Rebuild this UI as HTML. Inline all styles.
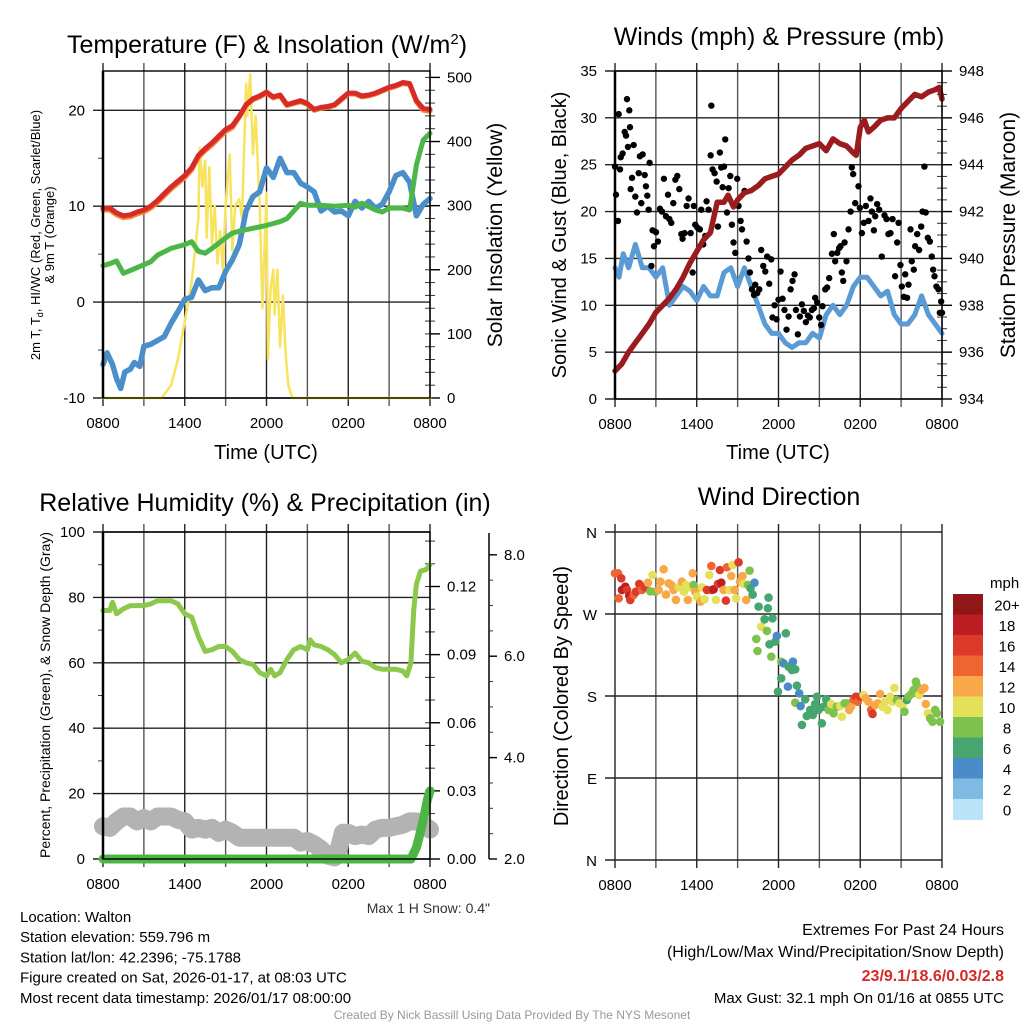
<!DOCTYPE html>
<html><head><meta charset="utf-8">
<style>
html,body{margin:0;padding:0;background:#fff;}
svg{display:block;font-family:"Liberation Sans",Arial,sans-serif;}
</style></head>
<body>
<svg id="chart" width="1024" height="1024" viewBox="0 0 1024 1024" xmlns="http://www.w3.org/2000/svg">
<rect width="1024" height="1024" fill="#fff"/>
</svg>
<script>
// ---------- shared axis data ----------
const timeTickHours = [0, 6, 12, 18, 24];
const timeTickLabels = ["0800", "1400", "2000", "0200", "0800"];
const gridHours = [0, 3, 6, 9, 12, 15, 18, 21, 24];

// ---------- Temperature panel ----------
const tempHours = [0,0.5,1,1.5,2,2.5,3,3.5,4,4.5,5,5.5,6,6.5,7,7.5,8,8.5,9,9.5,10,10.5,11,11.5,12,12.5,13,13.5,14,14.5,15,15.5,16,16.5,17,17.5,18,18.5,19,19.5,20,20.5,21,21.5,22,22.5,23,23.5,24];
const tempRed = [9.8,9.8,9.3,9.0,9.1,9.4,9.6,10.0,10.6,11.3,12.0,12.6,13.2,14.0,15.3,16.0,16.6,17.3,18.0,18.4,19.4,20.6,21.2,21.5,21.9,21.4,21.6,20.6,20.8,21.0,20.7,20.1,20.3,20.4,20.6,21.2,21.8,21.8,21.5,21.6,21.8,22.1,22.4,22.6,22.9,22.8,21.0,20.2,20.1];
const tempOrange = [9.6,9.6,9.1,8.8,8.9,9.2,9.4,9.8,10.4,11.1,11.8,12.4,13.0,13.8,15.1,15.8,16.4,17.1,17.8,18.2,19.3,20.5,21.1,21.4,21.8,21.3,21.5,20.5,20.7,20.9,20.6,20.0,20.2,20.3,20.5,21.1,21.7,21.7,21.4,21.5,21.7,22.0,22.3,22.5,22.8,22.7,20.9,20.0,19.9];
const dewHours = [0,0.5,1,1.5,2,3,3.5,4,5,6,6.5,7,7.5,8,9,9.5,10,11,12,13,13.5,14,14.5,15,16,17,18,18.5,19,20,20.5,21,22,22.5,23,23.5,24];
const dewGreen = [3.8,4.0,4.3,3.0,3.3,3.9,4.2,4.9,5.6,6.0,6.3,5.3,5.1,5.6,6.7,7.2,7.4,7.7,8.0,8.4,8.7,9.5,10.3,10.1,10.1,10.0,10.1,9.9,10.3,9.6,9.4,9.8,9.8,9.6,14.3,16.9,17.6];
const wcHours = [0,0.3,0.7,1,1.3,1.6,2,2.3,2.7,3,3.5,4,4.5,5,5.5,6,6.5,7,7.5,8,8.5,9,9.5,10,10.5,11,11.5,12,12.5,13,13.5,14,14.5,15,15.5,16,16.5,17,17.5,18,18.5,19,19.5,20,20.5,21,21.5,22,22.5,23,23.5,24];
const wcBlue = [-6.5,-5.3,-6.5,-8.0,-9.0,-7.3,-7.0,-6.3,-6.7,-4.6,-4.4,-4.0,-3.6,-2.2,-1.0,0.3,0.5,2.3,1.2,1.5,1.5,3.2,4.4,6.0,9.5,11.0,11.5,14.0,13.0,15.0,13.5,13.5,12.4,12.0,11.5,9.5,10.0,9.4,9.5,9.0,10.5,9.8,10.5,9.8,10.2,11.5,13.2,13.5,12.5,9.0,10.2,10.8];
const solarHours = [0,4.3,5,5.5,6,6.5,7,7.1,7.3,7.5,7.6,7.8,8,8.2,8.4,8.6,8.8,9,9.3,9.5,9.7,10,10.2,10.5,10.6,10.8,11,11.2,11.5,11.7,12,12.1,12.3,12.5,12.6,12.8,13,13.2,13.4,13.6,13.9,24];
const solarValues = [0,0,20,60,120,180,280,390,330,370,250,360,240,300,210,260,200,300,380,230,300,310,280,490,440,505,380,440,300,140,320,60,170,200,130,200,80,160,70,20,0,0];
const tempTicks = [-10,0,10,20];
const solarTicks = [0,100,200,300,400,500];

// ---------- Wind panel ----------
const windHours = [0,0.3,0.6,1,1.5,2,2.5,3,3.5,4,4.5,5,5.5,6,6.5,7,7.5,8,8.5,9,9.5,10,10.5,11,11.5,12,12.5,13,13.5,14,14.5,15,15.5,16,16.5,17,17.5,18,18.5,19,19.5,20,20.5,21,21.5,22,22.5,23,23.5,24];
const windSpeed = [14,13,15.5,14,16.5,14,14,13,14,10,11,12,11.5,10.5,12,11,11,13.5,14,12,14,12,10,8,7,7,6,5.5,6,6,7,6.5,9,10,9,10,12,13,13,12,11,11.5,9,8,8,9,11,9,8,7];
const gustHours = [0,0.07,0.22,0.27,0.42,0.37,0.56,0.71,0.81,0.88,0.95,1.05,1.10,1.15,1.25,1.37,1.49,1.61,1.74,1.83,1.93,2.03,2.18,2.27,2.37,2.47,2.54,2.67,2.76,2.86,3.01,3.15,3.30,3.45,3.59,3.74,3.89,3.99,4.13,4.28,4.43,4.57,4.72,4.87,4.96,5.11,5.26,5.40,5.55,5.70,5.79,5.89,6.04,6.23,6.33,6.48,6.63,6.72,6.87,7.02,7.07,7.16,7.31,7.46,7.55,7.70,7.80,7.90,8.00,8.09,8.22,8.34,8.46,8.58,8.70,8.83,8.97,9.07,9.22,9.32,9.51,9.66,9.80,9.90,10.05,10.20,10.29,10.44,10.59,10.73,10.88,11.03,11.17,11.32,11.47,11.56,11.71,11.86,12.00,12.15,12.30,12.44,12.59,12.74,12.89,13.03,13.18,13.28,13.42,13.57,13.72,13.86,14.01,14.16,14.30,14.45,14.60,14.69,14.84,14.99,15.13,15.23,15.43,15.57,15.72,15.92,16.06,16.16,16.31,16.45,16.55,16.65,16.75,16.85,16.99,17.14,17.29,17.38,17.48,17.63,17.87,17.97,18.12,18.26,18.41,18.61,18.75,18.85,19.00,19.10,19.24,19.39,19.58,19.78,19.93,20.07,20.22,20.37,20.56,20.71,20.81,20.95,21.05,21.20,21.30,21.44,21.54,21.69,21.78,21.93,22.03,22.18,22.32,22.47,22.57,22.71,22.81,22.96,23.11,23.25,23.35,23.45,23.59,23.74,23.84,23.94,24.0];
const gustValues = [24.8,21.8,19.0,30.4,25.8,24.5,26.2,28.5,28.1,32.0,26.9,30.8,29.0,22.4,23.6,27.1,21.6,19.9,24.1,25.9,20.9,26.1,23.9,22.7,21.7,20.2,25.2,14.2,18.0,16.3,17.8,16.8,20.3,20.0,23.5,19.5,21.8,19.2,18.8,20.9,23.4,23.8,22.4,17.6,17.1,17.7,20.6,21.4,17.7,13.5,20.6,18.6,18.3,18.1,20.2,16.5,17.4,21.1,20.2,26.0,31.3,24.5,24.1,23.2,18.4,26.3,24.7,22.6,24.8,27.7,19.9,22.5,23.8,18.6,16.7,15.6,23.5,20.6,19.0,18.1,22.2,16.8,15.0,13.5,11.7,11.1,12.2,11.3,11.7,15.9,14.2,13.6,15.2,12.3,14.9,8.7,10.0,8.5,10.6,13.6,10.7,9.5,7.4,8.8,11.7,12.6,13.3,9.5,6.9,8.8,10.1,9.4,8.2,8.9,8.7,9.5,9.7,10.8,10.3,8.7,7.9,9.9,11.7,11.9,12.9,15.5,17.6,14.7,15.6,16.1,16.3,13.5,12.6,16.7,14.7,18.1,20.0,24.7,24.0,20.9,22.7,20.4,17.7,18.8,20.6,19.0,21.4,20.0,18.0,19.5,20.8,20.2,15.2,19.6,19.2,17.6,17.7,19.2,13.1,16.7,18.8,14.3,12.0,10.9,13.3,10.8,12.2,18.1,14.7,13.8,16.3,17.6,15.9,18.4,20.0,24.8,19.9,17.2,16.8,15.2,13.8,13.1,12.0,11.7,9.2,10.4,9.2];
const presHours = [0,0.5,1,1.5,2,2.5,3,3.5,4,4.5,5,5.5,6,6.5,7,7.5,8,8.3,8.7,9,9.5,10,10.5,11,11.5,12,12.5,13,13.5,14,14.5,15,15.5,16,16.5,17,17.5,17.7,18,18.3,18.6,19,19.5,20,20.5,21,21.5,22,22.5,23,23.5,23.8,24];
const presValues = [935.2,935.5,936.0,936.4,936.8,937.2,937.7,938.0,938.3,938.7,939.2,939.8,940.3,940.8,941.1,942.4,942.4,942.7,942.2,942.5,942.8,942.9,943.1,943.4,943.5,943.6,943.9,944.2,944.4,944.7,944.8,944.9,944.6,945.1,944.9,944.8,944.5,944.4,945.6,945.9,945.4,945.6,945.9,946.0,946.0,946.4,946.7,947.0,946.9,947.1,947.2,947.3,946.8];
const windTicks = [0,5,10,15,20,25,30,35];
const presTicks = [934,936,938,940,942,944,946,948];

// ---------- RH panel ----------
const rhHours = [0,0.5,0.7,1,1.5,2,3,3.5,4,5,5.5,6,6.5,7,7.5,8,8.5,9,9.5,10,10.5,11,11.5,12,12.3,12.6,13,13.5,14,14.5,15,15.2,15.5,16,16.5,17,17.5,18,18.5,19,19.5,20,20.5,21,21.5,22,22.3,22.6,22.8,23,23.3,23.7,24];
const rhValues = [76,76,78.5,75,76.5,77.5,77.5,78,79,79,78,75,74,68,63.5,64,65,65,63.5,61,60,59.5,57,56,58,56,57,61,64,65,64,67,65.5,65,64,62.5,60,61,63,60.5,60,58.5,58,58,58,57.5,56,60,76,84,88,88.5,90];
const snowHours = [0,0.5,1,1.5,2,2.5,3,3.5,4,5,5.5,6,6.5,7,7.5,8,8.5,9,9.5,10,11,12,13,14,14.5,15,15.5,16,16.5,17,17.3,17.6,18,18.5,19,19.5,20,20.5,21,21.5,22,22.5,23,23.5,24];
const snowValues = [10,9.5,11.5,13,13,11.5,12.5,11.5,13,13,12,11.5,9,9.5,9,9.5,8,9,8,6.5,6.5,6.5,6.5,6.5,5,5.5,4.5,3,1,0.5,3,8,8,7,7.5,7,9,9.5,9.5,10,10.5,11.5,11.5,10.5,9];
const precipHours = [0,22.6,23,23.3,23.6,23.8,24];
const precipValues = [0,0,0.005,0.012,0.02,0.026,0.03];
const rhTicks = [0,20,40,60,80,100];
const precipTicks = [0.00,0.03,0.06,0.09,0.12];
const snowTicks = [2.0,4.0,6.0,8.0];

// ---------- Wind direction panel ----------
const dirHours = [0,0.22,0.46,0.27,0.51,0.76,0.88,1.05,1.12,1.37,1.54,1.78,1.98,2.18,2.42,2.59,2.76,2.96,3.20,3.33,3.57,3.74,3.94,4.13,4.30,4.47,4.67,4.91,5.06,5.21,5.35,5.53,5.70,5.77,5.89,6.01,6.28,6.38,6.58,6.75,6.92,7.07,7.11,7.24,7.41,7.56,7.70,7.80,7.97,8.14,8.22,8.39,8.53,8.63,8.78,8.88,9.07,9.17,9.36,9.44,9.63,9.76,9.88,9.95,10.10,10.24,10.54,10.73,10.98,11.15,11.27,11.22,11.56,10.37,10.46,11.34,11.76,11.88,11.47,12.54,12.20,12.37,12.74,13.06,12.98,13.23,12.20,12.69,13.35,13.52,11.96,13.23,13.62,13.96,13.72,14.08,14.33,14.52,14.82,14.69,14.94,15.18,15.31,15.50,15.67,15.87,16.04,16.28,16.53,16.65,16.85,17.02,17.19,17.33,17.51,17.68,17.82,18.00,18.24,18.41,18.61,18.80,18.90,19.10,19.29,19.46,19.63,19.83,20.00,20.20,20.37,20.51,20.68,20.88,21.10,21.25,21.42,21.54,21.74,21.91,22.08,22.15,22.32,22.52,22.71,22.81,22.96,23.13,23.30,23.50,23.62,23.86,24.0];
const dirValues = [314.7,314.7,309.2,287.2,296.4,300.0,296.4,289.8,285.4,290.9,294.5,303.0,296.4,299.3,304.4,294.9,312.8,294.5,296.4,305.5,319.1,291.3,303.7,301.9,296.4,285.4,299.3,305.5,294.5,301.9,285.4,299.3,314.7,301.9,294.5,289.1,283.6,299.3,286.1,296.4,312.8,322.7,296.4,297.1,285.4,303.0,318.3,304.4,296.4,284.7,321.3,296.4,311.7,323.8,296.4,287.2,326.7,305.5,311.7,303.0,285.4,301.9,317.6,298.2,291.3,304.4,278.1,256.1,264.2,251.4,288.0,276.3,265.3,242.6,229.4,236.7,239.7,245.9,223.2,248.8,217.7,215.9,212.2,217.7,208.6,209.3,199.4,190.3,191.4,182.9,184.8,172.7,169.0,176.4,148.2,158.1,164.7,159.2,179.3,171.2,164.7,150.0,168.3,176.4,164.7,171.2,161.0,168.3,169.0,157.3,172.0,172.0,164.7,168.3,176.4,179.3,173.8,179.3,181.1,177.5,173.8,164.7,160.3,170.1,172.0,182.2,168.3,173.8,164.7,179.3,173.8,188.8,175.6,172.0,170.1,162.8,175.6,179.3,182.2,186.6,195.8,191.4,181.1,186.6,188.8,171.2,161.0,155.5,151.8,164.7,161.0,151.8];
const dirSpeed = [14,14,16,14,18,18,16,18,16,14,16,16,14,16,12,8,10,8,12,12,12,12,12,12,12,12,10,12,10,10,12,10,12,8,12,10,12,10,10,16,10,14,16,18,10,16,16,18,12,16,14,10,12,10,12,10,16,12,12,10,12,8,8,6,6,4,6,10,6,8,6,6,6,8,8,6,6,4,8,6,8,4,6,4,6,6,6,4,6,4,6,8,4,6,6,6,6,6,6,6,6,6,6,6,8,10,8,8,10,10,8,8,12,12,14,16,14,16,10,12,12,14,16,12,12,12,10,10,10,10,10,10,8,10,10,8,6,8,8,8,8,8,10,12,12,12,10,8,8,8,8,8,6];
const dirTicks = [0,90,180,270,360];
const dirTickLabels = ["N","E","S","W","N"];
const speedBins = [0,2,4,6,8,10,12,14,16,18,20];
const speedBinLabels = ["0","2","4","6","8","10","12","14","16","18","20+"];
const speedColors = ["#b9e3f6","#7fbae2","#4a8dc6","#47a56f","#7ec24d","#e5e05a","#f7a849","#ef6430","#dc3a2a","#bc1e24","#911619"];

// ---------- drawing helpers ----------
const NS = "http://www.w3.org/2000/svg";
const svg = document.getElementById("chart");
function mk(tag, attrs, parent) {
  const e = document.createElementNS(NS, tag);
  for (const k in attrs) e.setAttribute(k, attrs[k]);
  (parent || svg).appendChild(e);
  return e;
}
function txt(s, attrs, parent) { const t = mk("text", attrs, parent); t.textContent = s; return t; }
function linScale(d0, d1, r0, r1) { return v => r0 + (v - d0) * (r1 - r0) / (d1 - d0); }
function pathD(xs, ys, sx, sy) {
  return xs.map((h, i) => (i ? "L" : "M") + sx(h).toFixed(1) + "," + sy(ys[i]).toFixed(1)).join(" ");
}

function panelFrame(g, L, T, R, B, sx) {
  gridHours.forEach(h => {
    const x = sx(h);
    const ln = mk("line", {x1:x, y1:T-8, x2:x, y2:B+8, stroke:(h%6===0)?"#222":"#555", "stroke-width":1.4}, g);
    
    
  });
  timeTickHours.forEach((h, i) => {
    const t = txt(timeTickLabels[i], {x:sx(h), y:B+30, "font-size":15, "text-anchor":"middle", fill:"#000"}, g);
    
    
  });
}
function hGrid(g, L, R, y) {
  const ln = mk("line", {x1:L-10, y1:y, x2:R, y2:y, stroke:"#222", "stroke-width":1.4}, g);
  
  
}
function box(g, L, T, R, B) {
  const r = mk("rect", {x:L, y:T, width:R-L, height:B-T, fill:"none", stroke:"#000", "stroke-width":1.4}, g);
  
  
  const a = mk("line", {x1:L, y1:T, x2:L, y2:B, stroke:"#000", "stroke-width":2.5}, g);
  
  
}
function rightTicks(g, R, ticks, sy, fmt, minorStep, dmin, dmax) {
  for (let v = dmin; v <= dmax + 1e-9; v += minorStep) {
    const y = sy(v);
    mk("line", {x1:R-5, y1:y, x2:R+5, y2:y, stroke:"#333", "stroke-width":1}, g);
  }
  ticks.forEach(v => {
    const y = sy(v);
    mk("line", {x1:R, y1:y, x2:R+10, y2:y, stroke:"#000", "stroke-width":1.4}, g);
    const t = txt(fmt(v), {x:R+17, y:y+5, "font-size":15, fill:"#000"}, g);
    
    
  });
}
function leftLabels(g, L, ticks, sy, fmt) {
  ticks.forEach(v => {
    const t = txt(fmt(v), {x:L-18, y:sy(v)+5, "font-size":15, "text-anchor":"end", fill:"#000"}, g);
    
    
  });
}
function line(g, xs, ys, sx, sy, color, w, name) {
  const p = mk("path", {d:pathD(xs, ys, sx, sy), fill:"none", stroke:color, "stroke-width":w, "stroke-linejoin":"round", "stroke-linecap":"round"}, g);
  
  
  return p;
}
function rotLabel(g, s, x, y, size, ang, name) {
  const t = txt(s, {x:x, y:y, "font-size":size, "text-anchor":"middle", transform:`rotate(${ang} ${x} ${y})`, fill:"#000"}, g);
  
  
  return t;
}

// ================= Panel 1: Temperature =================
(function(){
  const g = mk("g", {});
  
  
  const L=103, R=430, T=71, B=398;
  const sx = linScale(0, 24, L, R);
  const sy = linScale(-10, 24.1, B, T);
  const sy2 = linScale(0, 510, B, T);
  panelFrame(g, L, T, R, B, sx);
  tempTicks.forEach(v => hGrid(g, L, R, sy(v)));
  [-5,5,15].forEach(v => mk("line", {x1:L-5, y1:sy(v), x2:L, y2:sy(v), stroke:"#444"}, g));
  rightTicks(g, R, solarTicks, sy2, v => String(v), 20, 0, 500);
  leftLabels(g, L, tempTicks, sy, v => String(v));
  line(g, solarHours, solarValues, sx, sy2, "#f8e35e", 2.5, "solar-insolation-line");
  line(g, wcHours, wcBlue, sx, sy, "#4a8fc9", 5.5, "wind-chill-line");
  line(g, dewHours, dewGreen, sx, sy, "#4cb748", 5, "dewpoint-line");
  line(g, tempHours, tempOrange, sx, sy, "#f5883a", 5, "temp-9m-line");
  line(g, tempHours, tempRed, sx, sy, "#d62b26", 5, "temp-2m-line");
  box(g, L, T, R, B);
  const tt = txt("", {x:267, y:53, "font-size":25, "text-anchor":"middle", fill:"#000"}, g);
  tt.innerHTML = 'Temperature (F) &amp; Insolation (W/m<tspan dy="-9" font-size="15">2</tspan><tspan dy="9">)</tspan>';
  
  
  const xl = txt("Time (UTC)", {x:266, y:459, "font-size":20, "text-anchor":"middle", fill:"#000"}, g);
  
  
  const yl = txt("", {x:40, y:235, "font-size":13, "text-anchor":"middle", transform:"rotate(-90 40 235)", fill:"#000"}, g);
  yl.innerHTML = '2m T, T<tspan dy="3" font-size="9">d</tspan><tspan dy="-3">, HI/WC (Red, Green, Scarlet/Blue)</tspan>';
  
  
  rotLabel(g, "& 9m T (Orange)", 54, 235, 13, -90, "y-axis-title-line2");
  rotLabel(g, "Solar Insolation (Yellow)", 502, 235, 21, -90, "right-axis-title");
})();

// ================= Panel 2: Winds & Pressure =================
(function(){
  const g = mk("g", {});
  
  
  const L=615, R=942, T=71, B=399;
  const sx = linScale(0, 24, L, R);
  const sy = linScale(0, 35, B, T);
  const sy2 = linScale(934, 948, B, T);
  panelFrame(g, L, T, R, B, sx);
  windTicks.forEach(v => hGrid(g, L, R, sy(v)));
  rightTicks(g, R, presTicks, sy2, v => String(v), 0.5, 934, 948);
  leftLabels(g, L, windTicks, sy, v => String(v));
  line(g, windHours, windSpeed, sx, sy, "#5b9bd5", 5, "sonic-wind-line");
  gustHours.forEach((h, i) => {
    if (gustValues[i] === undefined) return;
    const c = mk("circle", {cx:sx(h), cy:sy(gustValues[i]), r:3.2, fill:"#000"}, g);
    
    
  });
  line(g, presHours, presValues, sx, sy2, "#9b1c1f", 5.5, "pressure-line");
  box(g, L, T, R, B);
  const tt = txt("Winds (mph) & Pressure (mb)", {x:779, y:45, "font-size":25, "text-anchor":"middle", fill:"#000"}, g);
  
  
  const xl = txt("Time (UTC)", {x:778, y:459, "font-size":20, "text-anchor":"middle", fill:"#000"}, g);
  
  
  rotLabel(g, "Sonic Wind & Gust (Blue, Black)", 566, 235, 20, -90, "y-axis-title");
  rotLabel(g, "Station Pressure (Maroon)", 1015, 235, 21, -90, "right-axis-title");
})();

// ================= Panel 3: RH & Precip =================
(function(){
  const g = mk("g", {});
  
  
  const L=103, R=430, T=532, B=859;
  const sx = linScale(0, 24, L, R);
  const sy = linScale(0, 100, B, T);
  const sy2 = linScale(0, 0.144, B, T);
  const sy3 = linScale(2, 8.45, B, T);
  panelFrame(g, L, T, R, B, sx);
  rhTicks.forEach(v => hGrid(g, L, R, sy(v)));
  [10,30,50,70,90].forEach(v => mk("line", {x1:L-5, y1:sy(v), x2:L, y2:sy(v), stroke:"#444"}, g));
  rightTicks(g, R, precipTicks, sy2, v => v.toFixed(2), 0.01, 0, 0.14);
  leftLabels(g, L, rhTicks, sy, v => String(v));
  const ax = mk("line", {x1:489, y1:533, x2:489, y2:859, stroke:"#000", "stroke-width":1.5}, g);
  
  
  for (let v = 2; v <= 8.4; v += 0.5) mk("line", {x1:489, y1:sy3(v), x2:493, y2:sy3(v), stroke:"#333"}, g);
  snowTicks.forEach(v => {
    mk("line", {x1:489, y1:sy3(v), x2:497, y2:sy3(v), stroke:"#000", "stroke-width":1.4}, g);
    const t = txt(v.toFixed(1), {x:504, y:sy3(v)+5, "font-size":15, fill:"#000"}, g);
    
    
  });
  line(g, snowHours, snowValues, sx, sy, "#b3b3b3", 18, "snow-depth-line");
  line(g, rhHours, rhValues, sx, sy, "#8cc84c", 5, "relative-humidity-line");
  line(g, precipHours, precipValues, sx, sy2, "#4cb546", 9, "precipitation-line");
  box(g, L, T, R, B);
  const tt = txt("Relative Humidity (%) & Precipitation (in)", {x:265, y:511, "font-size":25, "text-anchor":"middle", fill:"#000"}, g);
  
  
  rotLabel(g, "Percent, Precipitation (Green), & Snow Depth (Gray)", 50, 695, 14, -90, "y-axis-title");
  const sn = txt('Max 1 H Snow: 0.4"', {x:490, y:913, "font-size":14, "text-anchor":"end", fill:"#333"}, g);
  
  
})();

// ================= Panel 4: Wind direction =================
(function(){
  const g = mk("g", {});
  
  
  const L=615, R=942, T=532, B=860;
  const sx = linScale(0, 24, L, R);
  const sy = linScale(0, 360, B, T);
  panelFrame(g, L, T, R, B, sx);
  dirTicks.forEach((v, i) => {
    hGrid(g, L, R, sy(v));
    const t = txt(dirTickLabels[i], {x:597, y:sy(v)+6, "font-size":15, "text-anchor":"end", fill:"#000"}, g);
    
    
  });
  function colorFor(s) {
    let idx = 0;
    speedBins.forEach((b, i) => { if (s >= b) idx = i; });
    return speedColors[idx];
  }
  dirHours.forEach((h, i) => {
    if (dirValues[i] === undefined || dirSpeed[i] === undefined) return;
    const c = mk("circle", {cx:sx(h), cy:sy(dirValues[i]), r:4.3, fill:colorFor(dirSpeed[i])}, g);
    
    
  });
  const tt = txt("Wind Direction", {x:779, y:505, "font-size":25, "text-anchor":"middle", fill:"#000"}, g);
  
  
  rotLabel(g, "Direction (Colored By Speed)", 568, 696, 20, -90, "y-axis-title");
  const cb = mk("g", {}, g);
  
  
  const cbTop = 594, cbH = 20.5;
  const unit = txt("mph", {x:990, y:588, "font-size":15, fill:"#000"}, cb);
  
  
  for (let i = 0; i < speedColors.length; i++) {
    const k = speedColors.length - 1 - i;
    const y = cbTop + i * cbH;
    const r = mk("rect", {x:953, y:y, width:30, height:cbH+0.5, fill:speedColors[k]}, cb);
    
    
    const t = txt(speedBinLabels[k], {x:1007, y:y+cbH/2+6, "font-size":15, "text-anchor":"middle", fill:"#000"}, cb);
    
    
  }
})();

// ================= Footer text =================
(function(){
  const g = mk("g", {});
  
  
  const left = ["Location: Walton","Station elevation: 559.796 m","Station lat/lon: 42.2396; -75.1788","Figure created on Sat, 2026-01-17, at 08:03 UTC","Most recent data timestamp: 2026/01/17 08:00:00"];
  left.forEach((s, i) => {
    const t = txt(s, {x:20, y:922 + i*20.2, "font-size":15, fill:"#000"}, g);
    
    
  });
  const r1 = txt("Extremes For Past 24 Hours", {x:1004, y:935, "font-size":16, "text-anchor":"end", fill:"#000"}, g);
  
  
  const r2 = txt("(High/Low/Max Wind/Precipitation/Snow Depth)", {x:1004, y:957, "font-size":16, "text-anchor":"end", fill:"#000"}, g);
  
  
  const r3 = txt("23/9.1/18.6/0.03/2.8", {x:1004, y:981, "font-size":16, "font-weight":"bold", "text-anchor":"end", fill:"#d42a2a"}, g);
  
  
  const r4 = txt("Max Gust: 32.1 mph On 01/16 at 0855 UTC", {x:1004, y:1003, "font-size":15, "text-anchor":"end", fill:"#000"}, g);
  
  
  const cr = txt("Created By Nick Bassill Using Data Provided By The NYS Mesonet", {x:512, y:1019, "font-size":12, "text-anchor":"middle", fill:"#999"}, g);
  
  
})();
</script>
</body></html>
